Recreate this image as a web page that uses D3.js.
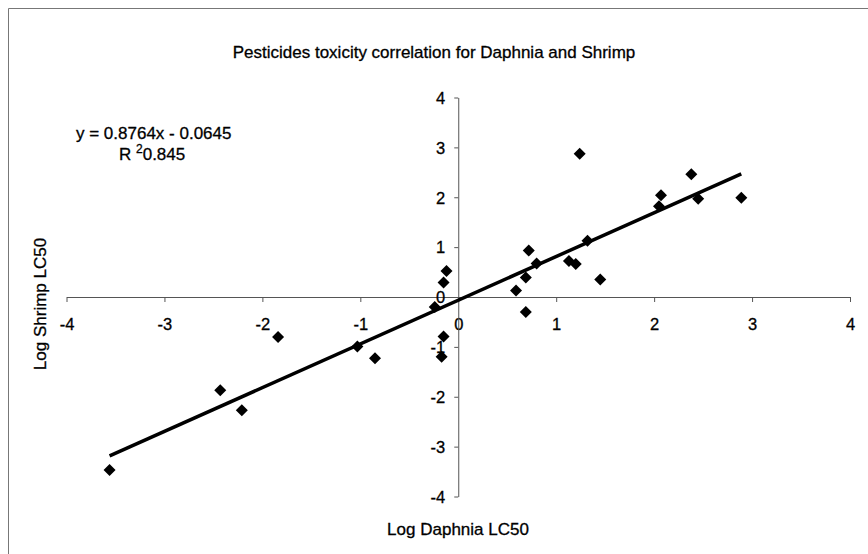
<!DOCTYPE html>
<html>
<head>
<meta charset="utf-8">
<script src="https://cdn.jsdelivr.net/npm/d3@7"></script>
<style>
  body { margin: 0; background: #fff; }
  text { font-family: "Liberation Sans", Arial, sans-serif; fill: #000; stroke: #000; stroke-width: 0.3px; }
</style>
</head>
<body>
<div id="viz"></div>
<script>
// log LC50 values
var daphnia = [1.24, 2.38, 2.07, 2.05, 2.45, 2.89, 1.32, 0.72, 0.80, 1.13, 1.20, 1.45, 0.69, 0.59,
    -0.12, -0.15, 0.69, -0.24, -0.15, -0.17, -1.03, -0.85, -1.84, -2.43, -2.21, -3.56];
var shrimp = [2.87, 2.46, 2.04, 1.82, 1.97, 1.99, 1.13, 0.93, 0.67, 0.72, 0.66, 0.35, 0.39, 0.13,
    0.52, 0.29, -0.30, -0.20, -0.79, -1.20, -0.99, -1.23, -0.80, -1.87, -2.27, -3.47];
var ticks = [-4, -3, -2, -1, 0, 1, 2, 3, 4];
var slope = 0.8764, intercept = -0.0645;

var width = 868, height = 554;

var svg = d3.select('#viz')
    .append('svg')
    .attr('width', width)
    .attr('height', height);

// frame (only top and left edges show in the scan)
svg.append('path')
    .attr('d', 'M8.5,554 V8.5 H868')
    .attr('fill', 'none')
    .attr('stroke', '#777')
    .attr('stroke-width', 1);

var xScale = d3.scaleLinear().domain([-4, 4]).range([66.5, 850]);
var yScale = d3.scaleLinear().domain([-4, 4]).range([496.5, 97.5]);

// axes cross at the origin
var xAxis = d3.axisBottom(xScale).tickValues(ticks).tickSize(5).tickSizeOuter(0).tickFormat(d3.format('d'));
var yAxis = d3.axisLeft(yScale).tickValues(ticks).tickSize(4).tickSizeOuter(0).tickFormat(d3.format('d'));

var gx = svg.append('g')
    .attr('transform', 'translate(0,' + yScale(0) + ')')
    .call(xAxis);
var gy = svg.append('g')
    .attr('transform', 'translate(' + xScale(0) + ',0)')
    .call(yAxis);

[gx, gy].forEach(function (g) {
    g.select('.domain').attr('stroke', '#555');
    g.selectAll('.tick line').attr('stroke', '#555');
    g.selectAll('.tick text')
        .style('font-size', '16.5px')
        .style('font-family', '"Liberation Sans", Arial, sans-serif')
        .attr('fill', '#000')
        .text(function (d) { return String(d).replace('\u2212', '-'); });
});
gx.selectAll('.tick text').attr('dy', null).attr('y', 33);
gy.selectAll('.tick text').attr('x', -13).attr('dy', '0.35em');

// trend line over the data range
var xExt = d3.extent(daphnia);
var trend = xExt.map(function (x) { return { x: x, y: slope * x + intercept }; });
var line = d3.line()
    .x(function (d) { return xScale(d.x); })
    .y(function (d) { return yScale(d.y); });
svg.append('path')
    .datum(trend)
    .attr('d', line)
    .attr('fill', 'none')
    .attr('stroke', '#000')
    .attr('stroke-width', 3.5);

// diamond markers
var diamond = d3.symbol().type(d3.symbolSquare).size(72);
svg.append('g').selectAll('path')
    .data(daphnia.map(function (x, i) { return { x: x, y: shrimp[i] }; }))
    .join('path')
    .attr('d', diamond)
    .attr('transform', function (d) {
        return 'translate(' + xScale(d.x) + ',' + yScale(d.y) + ') rotate(45)';
    })
    .attr('fill', '#000');

// title and axis titles
svg.append('text')
    .attr('x', 434).attr('y', 58)
    .attr('text-anchor', 'middle')
    .style('font-size', '17px')
    .text('Pesticides toxicity correlation for Daphnia and Shrimp');

svg.append('text')
    .attr('x', 458).attr('y', 535)
    .attr('text-anchor', 'middle')
    .style('font-size', '17px')
    .text('Log Daphnia LC50');

svg.append('text')
    .attr('transform', 'translate(46,304) rotate(-90)')
    .attr('text-anchor', 'middle')
    .style('font-size', '17px')
    .text('Log Shrimp LC50');

// regression equation
svg.append('text')
    .attr('x', 76).attr('y', 139)
    .style('font-size', '17px')
    .text('y = ' + slope + 'x - ' + Math.abs(intercept));

var r2 = svg.append('text')
    .attr('x', 119).attr('y', 160)
    .style('font-size', '17px');
r2.append('tspan').text('R ');
r2.append('tspan').attr('dy', -7).style('font-size', '12px').text('2');
r2.append('tspan').attr('dy', 7).text('0.845');
</script>
</body>
</html>
